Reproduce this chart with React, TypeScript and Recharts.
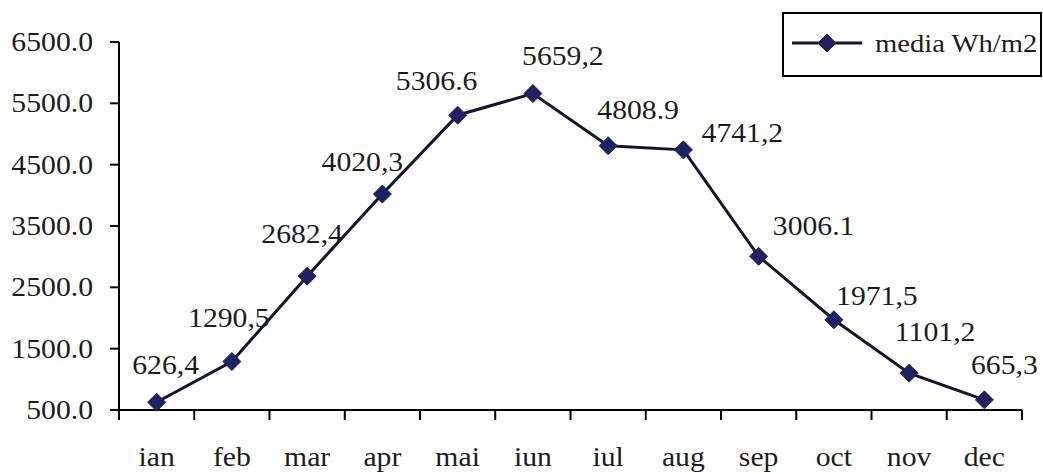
import React from 'react'
import { LineChart, Line, XAxis, YAxis, LabelList } from 'recharts'

const months = ['ian', 'feb', 'mar', 'apr', 'mai', 'iun', 'iul', 'aug', 'sep', 'oct', 'nov', 'dec']
const media = [626.4, 1290.5, 2682.4, 4020.3, 5306.6, 5659.2, 4808.9, 4741.2, 3006.1, 1971.5, 1101.2, 665.3]
const valueLabels = ['626,4', '1290,5', '2682,4', '4020,3', '5306.6', '5659,2', '4808.9', '4741,2', '3006.1', '1971,5', '1101,2', '665,3']
const yTicks = [500, 1500, 2500, 3500, 4500, 5500, 6500]

const data = months.map((m, i) => ({ month: m, media: media[i], label: valueLabels[i] }))

const W = 1043
const H = 474
const YAXIS_W = 119
const MARGIN = { top: 42, right: 21, left: 0, bottom: 0 }
const XAXIS_H = 64
const BAND = (W - MARGIN.left - MARGIN.right - YAXIS_W) / months.length

const FONT = '"Liberation Serif", "Times New Roman", serif'
const TEXT = '#1c1c1c'
const LINE = '#14142e'
const MARK = '#1f2163'
const SX = 1.1

// where Excel put each data label, relative to its point
const labelShift = [
  [9, -28], [-3, -35], [-5, -33], [-20, -23], [-21, -25], [30, -29],
  [30, -27], [59, -8], [55, -21], [43, -15], [26, -32], [20, -26],
]

const Diamond = ({ cx, cy }: any) => {
  if (cx == null || cy == null) return null
  const r = 9
  return (
    <polygon
      points={`${cx},${cy - r} ${cx + r},${cy} ${cx},${cy + r} ${cx - r},${cy}`}
      fill={MARK}
      stroke={MARK}
      strokeWidth={1}
    />
  )
}

const YTick = ({ x, y, payload }: any) => (
  <g>
    <line x1={x + 17} x2={x + 26} y1={y} y2={y} stroke="#000" strokeWidth={2} />
    <text
      transform={`translate(${x},${y}) scale(${SX},1)`}
      textAnchor="end"
      dominantBaseline="central"
      fontFamily={FONT}
      fontSize={27}
      fill={TEXT}
    >
      {Number(payload.value).toFixed(1)}
    </text>
  </g>
)

const XTick = ({ x, y, payload, index }: any) => {
  const left = x - BAND / 2
  const right = x + BAND / 2
  return (
    <g>
      <line x1={left} x2={left} y1={y} y2={y + 10} stroke="#000" strokeWidth={2} />
      {index === months.length - 1 && (
        <line x1={right} x2={right} y1={y} y2={y + 10} stroke="#000" strokeWidth={2} />
      )}
      <text
        transform={`translate(${x},${y + 56}) scale(${SX},1)`}
        textAnchor="middle"
        fontFamily={FONT}
        fontSize={27}
        fill={TEXT}
      >
        {payload.value}
      </text>
    </g>
  )
}

const ValueLabel = ({ x, y, index }: any) => {
  const [dx, dy] = labelShift[index] || [0, -25]
  return (
    <text
      transform={`translate(${x + dx},${y + dy}) scale(${SX},1)`}
      textAnchor="middle"
      fontFamily={FONT}
      fontSize={27}
      fill={TEXT}
    >
      {valueLabels[index]}
    </text>
  )
}

export default function App() {
  return (
    <div style={{ position: 'absolute', left: 0, top: 0, width: W, height: H, background: '#fff' }}>
      <LineChart width={W} height={H} data={data} margin={MARGIN}>
        <XAxis
          dataKey="month"
          height={XAXIS_H}
          padding={{ left: BAND / 2, right: BAND / 2 }}
          stroke="#000"
          strokeWidth={2}
          axisLine={{ stroke: '#000', strokeWidth: 2 }}
          tickLine={false}
          tickSize={0}
          tickMargin={0}
          interval={0}
          tick={<XTick />}
        />
        <YAxis
          width={YAXIS_W}
          domain={[500, 6500]}
          ticks={yTicks}
          interval={0}
          stroke="#000"
          strokeWidth={2}
          axisLine={{ stroke: '#000', strokeWidth: 2 }}
          tickLine={false}
          tickSize={9}
          tickMargin={17}
          tick={<YTick />}
        />
        <Line
          type="linear"
          dataKey="media"
          stroke={LINE}
          strokeWidth={3}
          dot={<Diamond />}
          activeDot={false}
          isAnimationActive={false}
        >
          <LabelList dataKey="label" content={<ValueLabel />} />
        </Line>
      </LineChart>
      <div
        style={{
          position: 'absolute',
          left: 782,
          top: 12,
          width: 256,
          height: 61,
          border: '2px solid #000',
          background: '#fff',
        }}
      >
        <svg width={256} height={61} style={{ display: 'block' }}>
          <line x1={8} x2={78} y1={29} y2={29} stroke={LINE} strokeWidth={3} />
          <polygon points="43,20 52,29 43,38 34,29" fill={MARK} stroke={MARK} />
          <text
            transform={`translate(91,38) scale(${SX},1)`}
            fontFamily={FONT}
            fontSize={26}
            fill={TEXT}
          >
            media Wh/m2
          </text>
        </svg>
      </div>
    </div>
  )
}
